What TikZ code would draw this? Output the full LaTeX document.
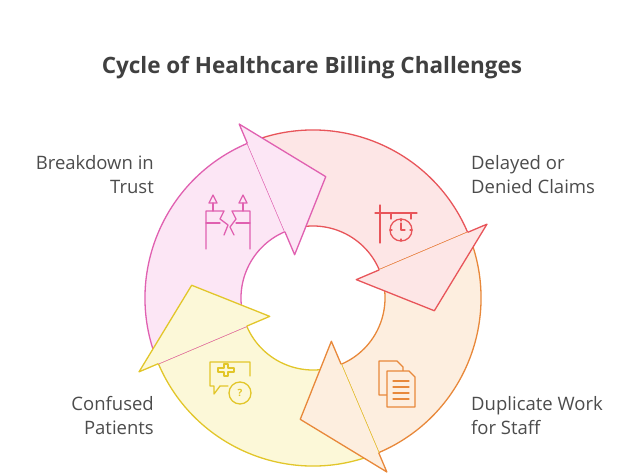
\documentclass[tikz,border=0pt]{standalone}
\usepackage{fontspec}
\setmainfont{Open Sans}
\begin{document}
\begin{tikzpicture}[x=1pt,y=1pt,
  lbl/.style={font=\fontsize{18.5}{24}\selectfont, text=black!70, inner sep=0pt},
  ic/.style={line width=1.3pt, line join=round, line cap=round}]
\definecolor{rS}{HTML}{E8555A}\definecolor{rF}{HTML}{FDE6E6}
\definecolor{oS}{HTML}{E8883A}\definecolor{oF}{HTML}{FDEEDF}
\definecolor{yS}{HTML}{E2C62A}\definecolor{yF}{HTML}{FCF8D8}
\definecolor{pS}{HTML}{E060B0}\definecolor{pF}{HTML}{FCE6F5}
\useasboundingbox (0,0) rectangle (636,475);
\node[font=\fontsize{22.5}{26}\selectfont\bfseries, text=black!75] (title) at (312,407) {Cycle of Healthcare Billing Challenges};
\begin{scope}[shift={(313,177)}, line width=1.3pt, line join=round]
\foreach \a/\b/\s/\f in {113/23/rS/rF, 23/-67/oS/oF, -67/-157/yS/yF, -157/-247/pS/pF}{
  \draw[draw=\s, fill=\f] (\a:168) arc[start angle=\a, end angle=\b, radius=168] -- (\b:72) arc[start angle=\b, end angle=\a, radius=72] -- cycle;
}
\foreach \b/\s/\f in {23/rS/rF, -67/oS/oF, -157/yS/yF, -247/pS/pF}{
  \fill[\f] (\b:47) -- (\b-29:122) -- (\b:189) -- cycle;
  \draw[\s] (\b:72) -- (\b:47) -- (\b-29:122) -- (\b:189) -- (\b:168);
}
\end{scope}
% clock sign (red)
\begin{scope}[shift={(395,262)}, ic, draw=rS]
\draw (-15,8) -- (-15,-30); \draw (-20,0) -- (22,0);
\draw (-4,0) -- (-4,-6) (16,0) -- (16,-6);
\draw (6,-17) circle (11); \draw (6,-10) -- (6,-17) -- (10,-17);
\draw (6,-6) -- (6,-8) (6,-26) -- (6,-28) (-5,-17) -- (-3,-17) (15,-17) -- (17,-17);
\end{scope}
% documents (orange)
\begin{scope}[shift={(395,90)}, ic, draw=oS]
\draw (-16,24) -- (2,24) -- (8,18) -- (8,-10) -- (-16,-10) -- cycle;
\draw[fill=oF] (-8,14) -- (14,14) -- (20,8) -- (20,-22) -- (-8,-22) -- cycle;
\foreach \y in {4,-2,-8,-14} \draw (-2,\y) -- (14,\y);
\end{scope}
% chat with cross and ? (yellow)
\begin{scope}[shift={(230,97)}, ic, draw=yS]
\draw (-2,-8) -- (-10,-8) -- (-16,-16) -- (-16,-8) -- (-20,-8) -- (-20,16) -- (20,16) -- (20,2);
\draw (-12,10) -- (-6,10) -- (-6,14) -- (-2,14) -- (-2,10) -- (4,10) -- (4,6) -- (-2,6) -- (-2,2) -- (-6,2) -- (-6,6) -- (-12,6) -- cycle;
\draw (10,-15) circle (11);
\node[text=yS, font=\bfseries\normalsize, inner sep=0] (q) at (10,-15) {?};
\end{scope}
% broken pillars (pink)
\begin{scope}[shift={(228,260)}, ic, draw=pS]
\draw (-19,12) -- (-15,20) -- (-11,12) -- cycle; \draw (-15,12) -- (-15,4);
\draw (19,12) -- (15,20) -- (11,12) -- cycle; \draw (15,12) -- (15,4);
\draw (-22,-34) -- (-22,4) -- (-4,4) -- (-8,-4) -- (0,-10) -- (-4,-20);
\draw (22,-34) -- (22,4) -- (4,4) -- (8,-4) -- (2,-12) -- (6,-20);
\draw (-22,-8) -- (-8,-8) (22,-8) -- (8,-8);
\end{scope}
\node[lbl, align=right, anchor=north east] (t1) at (154,320) {Breakdown in\\Trust};
\node[lbl, align=left, anchor=north west] (t2) at (471,320) {Delayed or\\Denied Claims};
\node[lbl, align=right, anchor=north east] (t3) at (154,79) {Confused\\Patients};
\node[lbl, align=left, anchor=north west] (t4) at (471,79) {Duplicate Work\\for Staff};
\end{tikzpicture}
\end{document}
